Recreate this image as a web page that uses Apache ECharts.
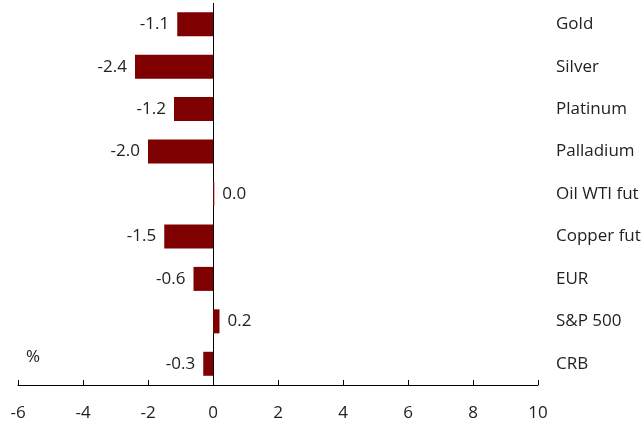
<!DOCTYPE html>
<html><head><meta charset="utf-8">
<script src="https://cdn.jsdelivr.net/npm/echarts@6/dist/echarts.min.js"></script>
<style>html,body{margin:0;padding:0;background:#fff}#c{width:644px;height:423px}</style>
</head><body><div id="c"></div>
<script>
var categories = ["Gold","Silver","Platinum","Palladium","Oil WTI fut","Copper fut","EUR","S&P 500","CRB"];
var values = [-1.1,-2.4,-1.2,-2.0,0.04,-1.5,-0.6,0.2,-0.3];
var xTicks = {min:-6, max:10, interval:2};
var unitLabel = "%";

var FONT = "Open Sans";
var chart = echarts.init(document.getElementById('c'));
var data = values.map(function(v){
  return {value:v, label:{position: v < 0 ? 'left' : 'right'}};
});
chart.setOption({
  animation:false,
  grid:{left:18,right:106,top:3,bottom:38,containLabel:false},
  xAxis:{type:'value',min:xTicks.min,max:xTicks.max,interval:xTicks.interval,
    axisLine:{show:true,onZero:false,lineStyle:{color:'#000',width:1}},
    axisTick:{show:true,inside:true,length:5,lineStyle:{color:'#000'}},
    splitLine:{show:false},
    axisLabel:{margin:20,color:'#222',fontFamily:FONT,fontSize:17}},
  yAxis:{type:'category',data:categories,inverse:true,position:'right',
    axisLine:{show:false},axisTick:{show:false},
    axisLabel:{margin:18,color:'#222',fontFamily:FONT,fontSize:17,align:'left'}},
  graphic:[{type:'text',left:26,top:349,style:{text:unitLabel,fontFamily:FONT,fontSize:17,fill:'#222'}}],
  series:[{type:'bar',data:data,barWidth:24,itemStyle:{color:'#7f0000'},z:3,
    label:{show:true,distance:8,color:'#222',fontFamily:FONT,fontSize:17,
      formatter:function(p){return p.value.toFixed(1);}},
    markLine:{silent:true,symbol:['none','none'],label:{show:false},z:2,
      lineStyle:{color:'#000',width:1,type:'solid'},data:[{xAxis:0}]}}]
});
</script></body></html>
